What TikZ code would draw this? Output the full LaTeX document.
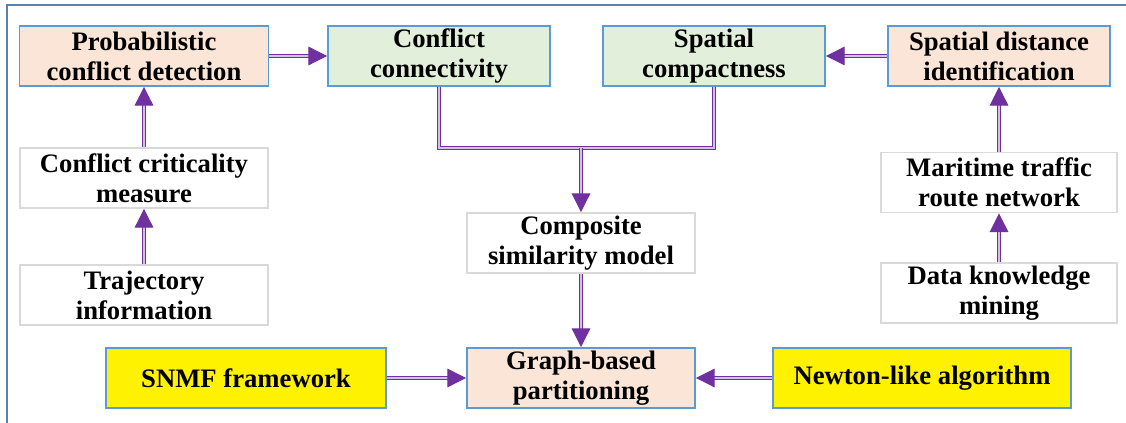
\documentclass[tikz,border=0pt]{standalone}
\usepackage{fontspec}
\setmainfont{Liberation Serif}
\usetikzlibrary{arrows.meta}
\definecolor{frameblue}{HTML}{5A80AC}
\definecolor{boxblue}{HTML}{5B9BD5}
\definecolor{boxgrey}{HTML}{D9D9D9}
\definecolor{peach}{HTML}{FBE5D6}
\definecolor{palegreen}{HTML}{E2EFDA}
\definecolor{flowpurple}{HTML}{7030A0}
\begin{document}
\begin{tikzpicture}[x=0.75pt, y=-0.75pt,
    box/.style={align=center, inner sep=0pt, minimum height=45pt,
      font=\fontsize{20}{22.5}\selectfont\bfseries},
    bluebox/.style={box, draw=boxblue, line width=1.4pt},
    greybox/.style={box, draw=boxgrey, line width=1.4pt, fill=white},
    link/.style={draw=flowpurple, line width=0.7pt, double=flowpurple!30,
      double distance=1.3pt},
    flow/.style={link, -{Triangle[length=14pt, width=14pt, fill=flowpurple]}}]
  \useasboundingbox (0,0) rectangle (1126,423);
  % frame
  \draw[frameblue, line width=1.5pt] (7,423) -- (7,5) -- (1126,5);
  % top row
  \node[bluebox, fill=peach, minimum width=186.75pt] (prob) at (144,56) {Probabilistic\\conflict detection};
  \node[bluebox, fill=palegreen, minimum width=166.5pt] (conn) at (439,56) {Conflict\\connectivity};
  \node[bluebox, fill=palegreen, minimum width=166.5pt] (compact) at (714,56) {Spatial\\compactness};
  \node[bluebox, fill=peach, minimum width=166.5pt] (dist) at (999,56) {Spatial distance\\identification};
  % left column
  \node[greybox, minimum width=186pt] (crit) at (144,178) {Conflict criticality\\measure};
  \node[greybox, minimum width=186pt] (traj) at (144,295) {Trajectory\\information};
  % right column
  \node[greybox, minimum width=177pt] (route) at (999,182.5) {Maritime traffic\\route network};
  \node[greybox, minimum width=177pt] (mining) at (999,293) {Data knowledge\\mining};
  % middle
  \node[greybox, minimum width=171pt] (model) at (581,243) {Composite\\similarity model};
  \node[bluebox, fill=peach, minimum width=171pt] (graph) at (581,378) {Graph-based\\partitioning};
  \node[bluebox, fill=yellow, minimum width=210pt] (snmf) at (246,378) {SNMF framework};
  \node[bluebox, fill=yellow, minimum width=223.5pt] (newton) at (922,378) {Newton-like algorithm};
  \coordinate (join) at (581,148);
  % lines
  \draw[flow] (prob) -- (conn);
  \draw[flow] (dist) -- (compact);
  \draw[flow] (traj) -- (crit);
  \draw[flow] (crit) -- (prob);
  \draw[flow] (mining) -- (route);
  \draw[flow] (route) -- (dist);
  \draw[link] (conn.south) |- (join) -| (compact.south);
  \draw[flow] (join) -- (model.north);
  \draw[flow] (model) -- (graph);
  \draw[flow] (snmf) -- (graph);
  \draw[flow] (newton) -- (graph);
\end{tikzpicture}
\end{document}
